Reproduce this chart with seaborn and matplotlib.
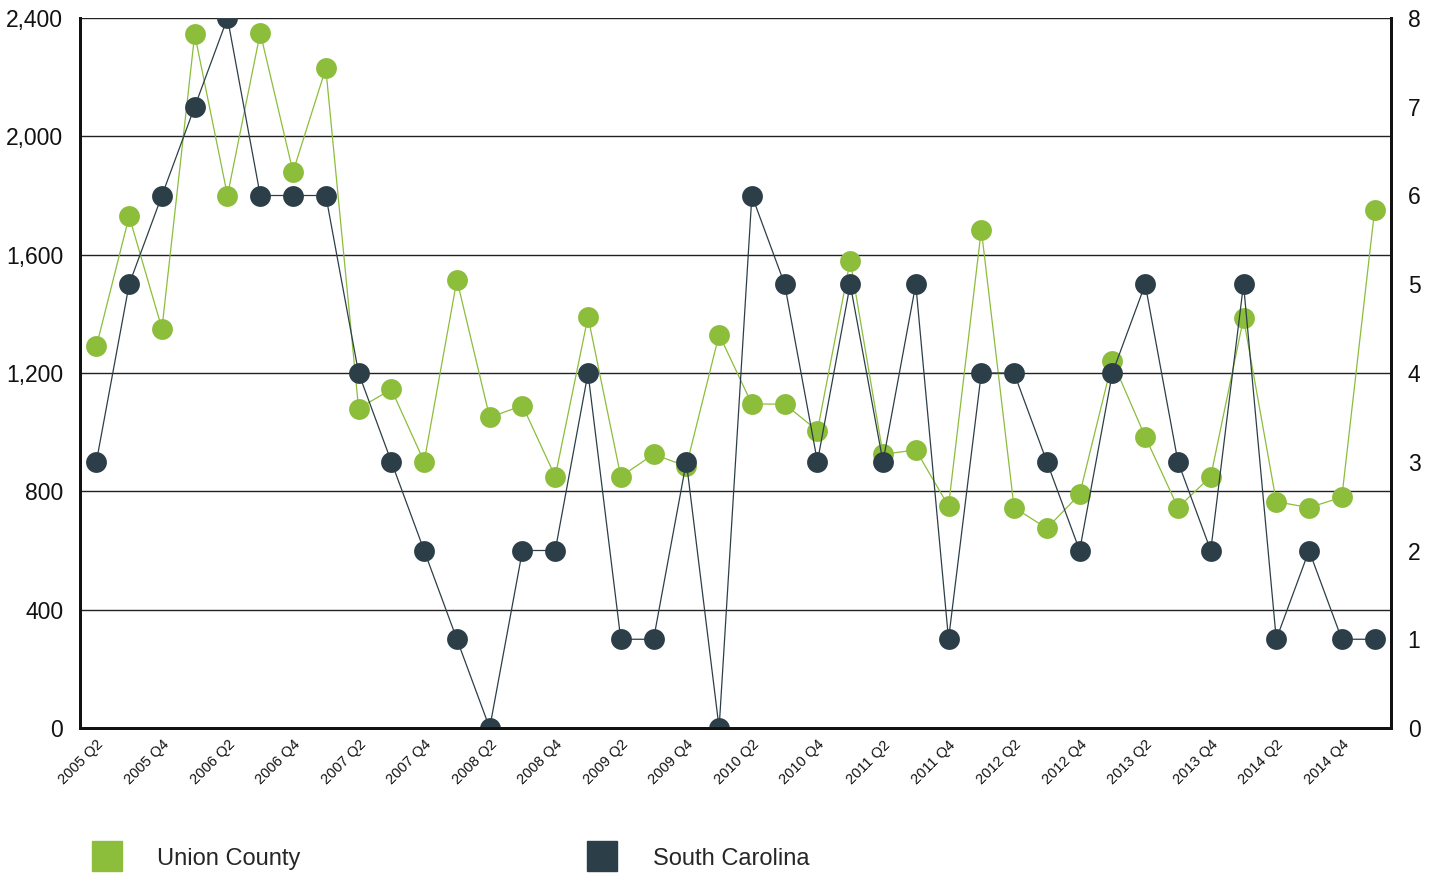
import matplotlib
matplotlib.use("Agg")
import matplotlib.pyplot as plt
import matplotlib.transforms as mtransforms
import seaborn as sns
import numpy as np
from matplotlib.lines import Line2D

sns.set_theme(style="white")
plt.rcParams['font.family'] = ['Liberation Sans', 'DejaVu Sans']

quarters = [f"{y} Q{q}" for y in range(2005, 2016) for q in range(1, 5)][1:41]

union_county = [1290, 1730, 1350, 2345, 1800, 2350, 1880, 2230, 1080, 1145,
                900, 1515, 1050, 1090, 850, 1390, 850, 925, 885, 1330,
                1095, 1095, 1005, 1580, 925, 940, 750, 1685, 745, 675,
                790, 1240, 985, 745, 850, 1385, 765, 745, 780, 1750]

south_carolina = [3, 5, 6, 7, 8, 6, 6, 6, 4, 3,
                  2, 1, 0, 2, 2, 4, 1, 1, 3, 0,
                  6, 5, 3, 5, 3, 5, 1, 4, 4, 3,
                  2, 4, 5, 3, 2, 5, 1, 2, 1, 1]

left_ticks = [0, 400, 800, 1200, 1600, 2000, 2400]
left_tick_labels = ["0", "400", "800", "1,200", "1,600", "2,000", "2,400"]
right_ticks = [0, 1, 2, 3, 4, 5, 6, 7, 8]

green = "#8cbd3b"
dark = "#2c3f48"

fig = plt.figure(figsize=(14.34, 8.76), dpi=100)
ax = fig.add_axes([80/1434, 1-728/876, (1391-80)/1434, (728-18)/876])
ax2 = ax.twinx()

x = np.arange(len(quarters))
sns.lineplot(x=x, y=union_county, ax=ax, color=green, marker='o', markersize=15,
             markeredgewidth=0, linewidth=0.9, legend=False)
sns.lineplot(x=x, y=south_carolina, ax=ax2, color=dark, marker='o', markersize=15,
             markeredgewidth=0, linewidth=0.9, legend=False)

ax.set_xlim(-0.5, len(quarters) - 0.5)
ax.set_ylim(0, 2400)
ax2.set_ylim(0, 8)
ax.set_yticks(left_ticks)
ax.set_yticklabels(left_tick_labels)
ax2.set_yticks(right_ticks)
ax2.set_yticklabels([str(t) for t in right_ticks])
ax.set_xticks(x[::2])
ax.set_xticklabels(quarters[::2], rotation=45, ha='right', va='top',
                   rotation_mode='anchor', fontsize=10.5)
offset = mtransforms.ScaledTranslation(4/100, 0, fig.dpi_scale_trans)
for lbl in ax.get_xticklabels():
    lbl.set_transform(lbl.get_transform() + offset)

for a in (ax, ax2):
    a.set_xlabel("")
    a.set_ylabel("")
    a.grid(False)
ax.yaxis.grid(True, color="#222222", linewidth=1.0)
ax.set_axisbelow(True)
ax.tick_params(axis='y', length=0, pad=12, labelsize=16.5, colors="#111111")
ax.tick_params(axis='x', length=0, pad=7, colors="#111111")
ax2.tick_params(axis='y', length=0, pad=12, labelsize=16.5, colors="#111111")

for a in (ax, ax2):
    for s in ('left', 'right', 'bottom'):
        a.spines[s].set_color("#111111")
        a.spines[s].set_linewidth(2.0)
    a.spines['top'].set_visible(False)

handles = [Line2D([], [], linestyle='none', marker='s', markersize=21, color=green),
           Line2D([], [], linestyle='none', marker='s', markersize=21, color=dark)]
fig.legend(handles, ["Union County", "South Carolina"], loc='lower left',
           bbox_to_anchor=(70/1434, -0.017), ncol=2, frameon=False,
           fontsize=17, handletextpad=1.5, columnspacing=12.1, handlelength=1.3)

fig.savefig("out.png", dpi=100)
